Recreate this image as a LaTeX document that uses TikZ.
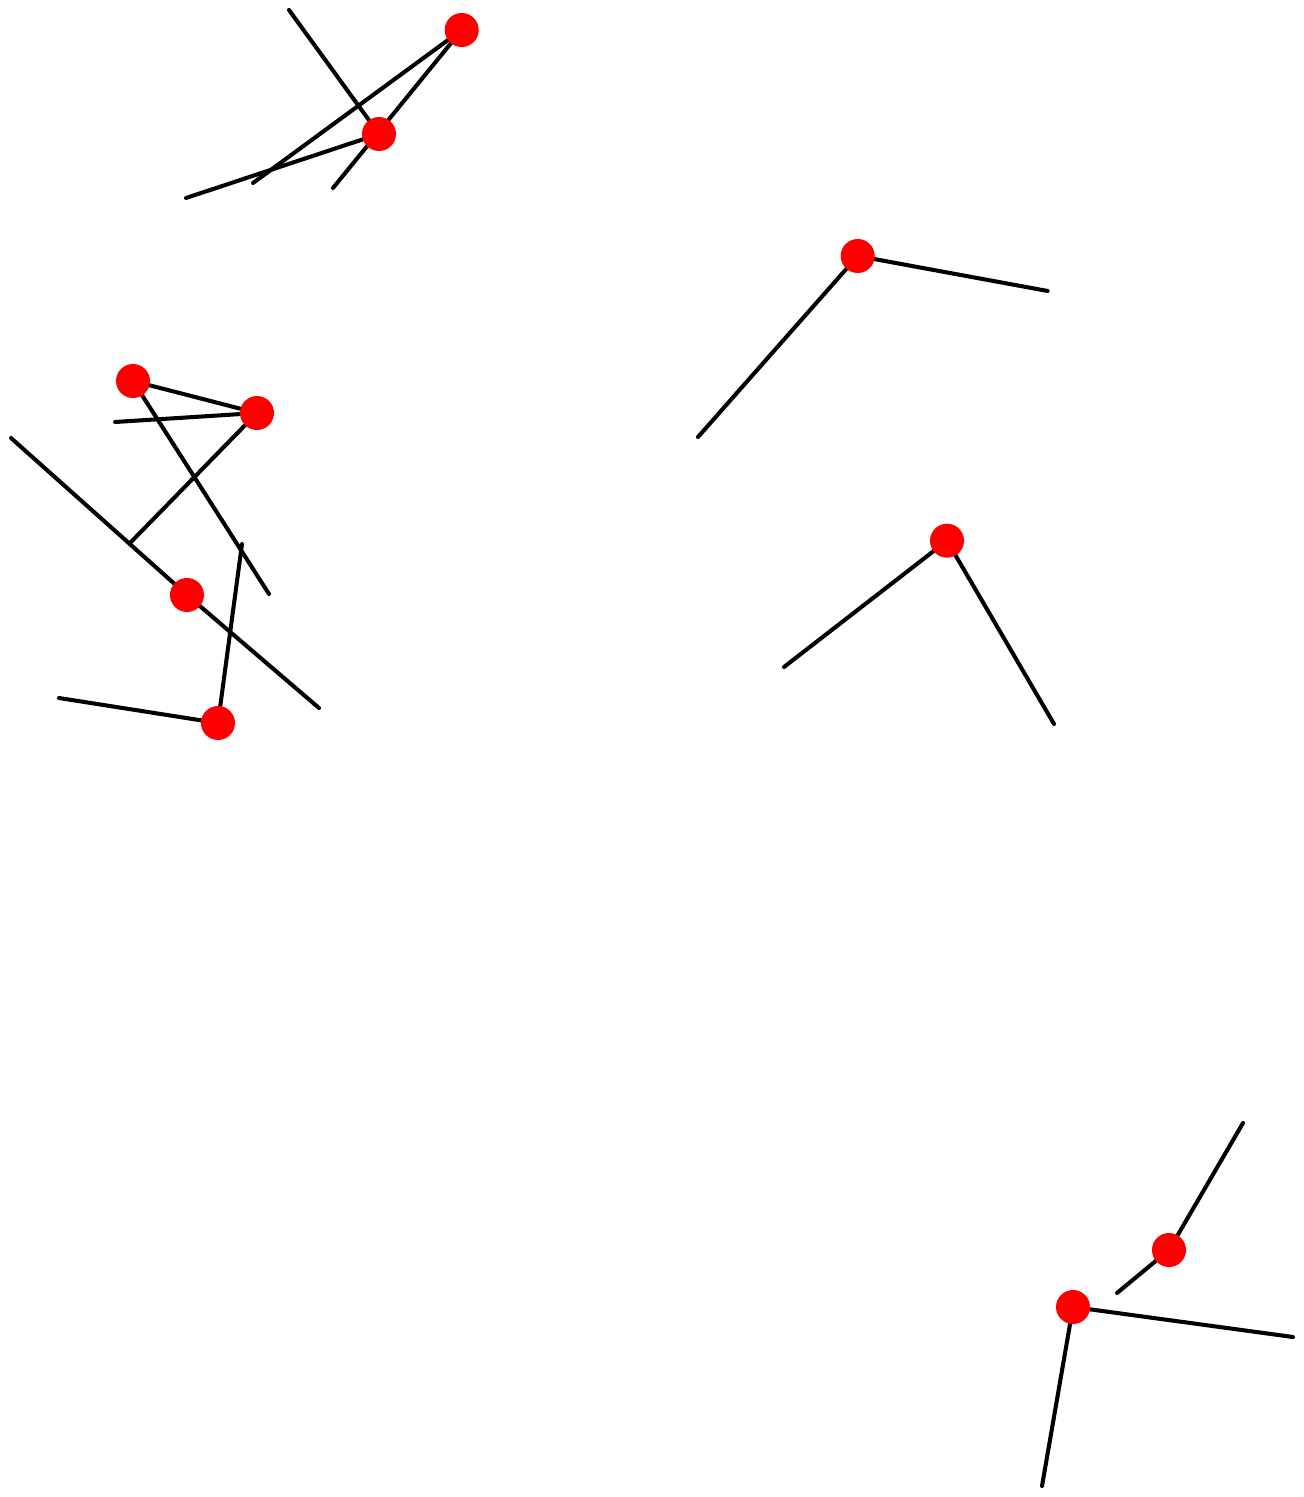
\documentclass[tikz,border=0pt]{standalone}
\usepackage{tikz}
\usetikzlibrary{backgrounds}

\begin{document}
\begin{tikzpicture}[x=0.01cm, y=-0.01cm,
  dot/.style={circle, fill=red, inner sep=0pt, minimum size=0.34cm},
  seg/.style={black, line width=1.15pt, line cap=round}]
\useasboundingbox (0,0) rectangle (1304,1497);
% Red joints
\foreach \n/\x/\y in {A/461.7/30, B/379/134, C/133/381, D/257/413, E/187/595,
                      F/218/723, I/857.7/256, J/947/540.7, G/1169/1250, H/1073/1307} {
  \node[dot] (\n) at (\x,\y) {};
}
% Free ends of the arms
\foreach \n/\x/\y in {a1/253/183, a2/333/188, b1/289/10, b2/186/198, c2/269/594,
                      d1/115/422, d2/130/543, e1/11/438, e2/319/708, f1/59/698, f2/242/544,
                      i1/1047.7/291, i2/698/437, j1/784/667, j2/1054/724,
                      g1/1243/1123, g2/1117/1293, h1/1293/1337, h2/1042/1486} {
  \coordinate (\n) at (\x,\y);
}
% Arms, behind the joints
\begin{scope}[on background layer]
\foreach \p/\q in {A/a1, A/a2, B/b1, B/b2, C/D, C/c2, D/d1, D/d2, E/e1, E/e2,
                   F/f1, F/f2, I/i1, I/i2, J/j1, J/j2, G/g1, G/g2, H/h1, H/h2} {
  \draw[seg] (\p.center) -- (\q);
}
\end{scope}
\end{tikzpicture}
\end{document}
